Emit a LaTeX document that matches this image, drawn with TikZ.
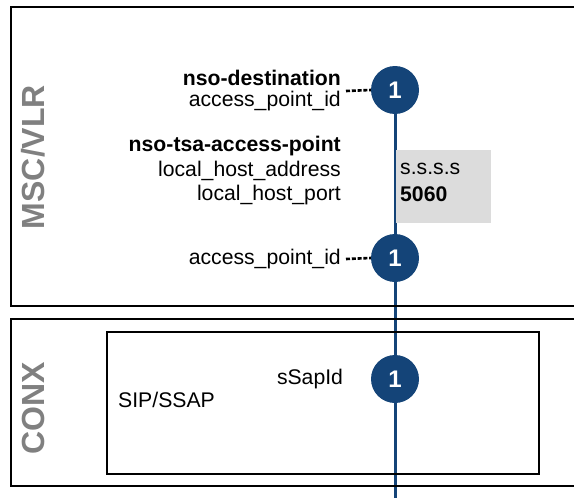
\documentclass[tikz,border=0pt]{standalone}
\usepackage{fontspec}
\setmainfont{Liberation Sans}
\usetikzlibrary{backgrounds}
\definecolor{markblue}{RGB}{20,68,120}
\definecolor{panelgray}{RGB}{220,220,220}
\definecolor{titlegray}{RGB}{128,128,128}
\tikzset{
  frame/.style={draw=black, line width=1.3pt},
  txt/.style={inner sep=0pt, font=\fontsize{21.2}{25}\selectfont},
  rtxt/.style={txt, anchor=east},
  ltxt/.style={txt, anchor=west},
  bold/.style={font=\fontsize{21.2}{25}\selectfont\bfseries},
  sidetitle/.style={inner sep=0pt, rotate=90, text=titlegray, font=\fontsize{32}{36}\selectfont\bfseries},
  marker/.style={circle, fill=markblue, minimum size=48pt, inner sep=0pt, text=white, font=\fontsize{24}{28}\selectfont\bfseries},
  flow/.style={draw=markblue, line width=3pt},
  tick/.style={draw=black, line width=2.6pt, dash pattern=on 4pt off 1.8pt},
}
\begin{document}
\begin{tikzpicture}[x=1pt, y=-1pt]
  \useasboundingbox (0,0) rectangle (574,498);
  \clip (0,0) rectangle (574,498);

  % layer frames
  \draw[frame] (11,7) rectangle (590,306);
  \draw[frame] (11,319) rectangle (590,486);
  \draw[frame] (107,332) rectangle (539,474);

  % side titles
  \node[sidetitle] (msc) at (33,157) {MSC/VLR};
  \node[sidetitle] (conx) at (33,408) {CONX};

  % parameter value panel
  \fill[panelgray] (396,150) rectangle (491,223);
  \node[ltxt] (addr) at (400,169) {s.s.s.s};
  \node[ltxt, bold] (port) at (400,194) {5060};

  % markers on the flow line
  \coordinate (bottom) at (395,500);
  \node[marker] (m1) at (395,90) {1};
  \node[marker] (m2) at (395,258) {1};
  \node[marker] (m3) at (395,379) {1};
  \begin{scope}[on background layer]
    \draw[flow] (m1.center) -- (bottom);
  \end{scope}

  % MSC/VLR parameters
  \node[rtxt, bold] (dest) at (341,78) {nso-destination};
  \node[rtxt] (ap1) at (341,101) {access\_point\_id};
  \node[rtxt, bold] (tsa) at (341,146) {nso-tsa-access-point};
  \node[rtxt] (lha) at (341,171) {local\_host\_address};
  \node[rtxt] (lhp) at (341,195) {local\_host\_port};
  \node[rtxt] (ap2) at (341,259) {access\_point\_id};
  \coordinate (d1) at (346,91);
  \coordinate (d2) at (346,259);
  \draw[tick] (d1) -- (m1.west);
  \draw[tick] (d2) -- (m2.west);

  % CONX parameters
  \node[txt] (ssap) at (310,379) {sSapId};
  \node[ltxt] (sip) at (118,400) {SIP/SSAP};
\end{tikzpicture}
\end{document}
